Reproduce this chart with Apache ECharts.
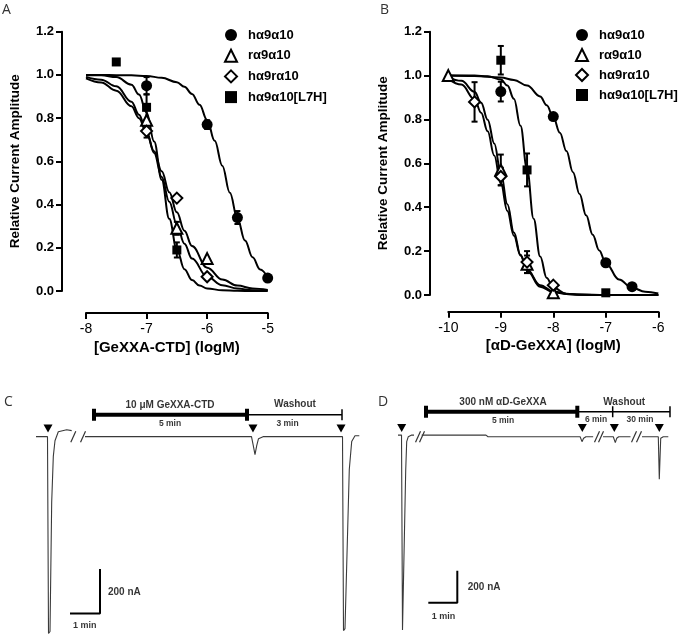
<!DOCTYPE html>
<html><head><meta charset="utf-8">
<script src="https://cdn.jsdelivr.net/npm/echarts@6/dist/echarts.min.js"></script>
<style>html,body{margin:0;padding:0;background:#fff}#main{width:685px;height:638px}</style>
</head><body><div id="main"></div>
<script>
// ---------- Names ----------
const seriesNames = ['hα9α10', 'rα9α10', 'hα9rα10', 'hα9α10[L7H]'];
const panelLetters = ['A', 'B', 'C', 'D'];
const aXName = '[GeXXA-CTD] (logM)';
const bXName = '[αD-GeXXA] (logM)';
const yName = 'Relative Current Amplitude';

// ---------- Panel A: points [logM, relative amplitude, SEM] ----------
const aPtsH   = [[-7, 0.95, 0.04], [-6, 0.77, 0.02], [-5.5, 0.34, 0.03], [-5, 0.06, 0]];
const aPtsR   = [[-7, 0.79, 0], [-6.5, 0.29, 0.03], [-6, 0.15, 0]];
const aPtsHR  = [[-7, 0.74, 0.03], [-6.5, 0.43, 0], [-6, 0.066, 0]];
const aPtsL7H = [[-7.5, 1.06, 0], [-7, 0.85, 0.06], [-6.5, 0.19, 0.035]];
// fitted curves
const aFitH = [[-8,1.000],[-7.75,1.000],[-7.5,0.999],[-7.25,0.998],[-7,0.995],[-6.75,0.987],[-6.5,0.966],[-6.375,0.945],[-6.25,0.912],[-6.125,0.862],[-6,0.791],[-5.875,0.695],[-5.75,0.580],[-5.625,0.455],[-5.5,0.335],[-5.375,0.234],[-5.25,0.156],[-5.125,0.100],[-5,0.063]];
const aFitR = [[-8,0.984],[-7.75,0.965],[-7.5,0.927],[-7.25,0.855],[-7.125,0.800],[-7,0.730],[-6.875,0.647],[-6.75,0.554],[-6.625,0.457],[-6.5,0.364],[-6.375,0.279],[-6.25,0.208],[-6,0.108],[-5.75,0.053],[-5.5,0.025],[-5.25,0.012],[-5,0.005]];
const aFitHR = [[-8,0.991],[-7.75,0.978],[-7.5,0.947],[-7.25,0.876],[-7.125,0.816],[-7,0.737],[-6.875,0.639],[-6.75,0.528],[-6.625,0.413],[-6.5,0.308],[-6.375,0.219],[-6.25,0.150],[-6,0.066],[-5.75,0.027],[-5.5,0.011],[-5.25,0.004],[-5,0.002]];
const aFitL7H = [[-8,0.999],[-7.75,0.998],[-7.5,0.990],[-7.25,0.955],[-7.125,0.909],[-7,0.826],[-6.875,0.692],[-6.75,0.515],[-6.625,0.334],[-6.5,0.192],[-6.375,0.101],[-6.25,0.051],[-6.125,0.025],[-6,0.012],[-5.75,0.003],[-5.5,0.001],[-5.25,0],[-5,0]];

// ---------- Panel B ----------
const bPtsH   = [[-9, 0.927, 0.045], [-8, 0.813, 0], [-7, 0.147, 0], [-6.5, 0.038, 0]];
const bPtsR   = [[-10, 1.0, 0], [-9, 0.57, 0.07], [-8.5, 0.14, 0.04], [-8, 0.01, 0]];
const bPtsHR  = [[-9.5, 0.88, 0.09], [-9, 0.54, 0.04], [-8.5, 0.15, 0.05], [-8, 0.045, 0.01]];
const bPtsL7H = [[-9, 1.07, 0.065], [-8.5, 0.57, 0.075], [-7, 0.01, 0]];
const bFitH = [[-10,1.000],[-9.5,0.998],[-9,0.991],[-8.75,0.980],[-8.5,0.955],[-8.25,0.905],[-8.125,0.865],[-8,0.810],[-7.875,0.740],[-7.75,0.656],[-7.625,0.560],[-7.5,0.460],[-7.375,0.363],[-7.25,0.275],[-7.125,0.203],[-7,0.145],[-6.75,0.071],[-6.5,0.033],[-6.25,0.015],[-6,0.007]];
const bFitR = [[-10,0.992],[-9.75,0.976],[-9.5,0.926],[-9.375,0.876],[-9.25,0.799],[-9.125,0.691],[-9,0.557],[-8.875,0.414],[-8.75,0.285],[-8.625,0.183],[-8.5,0.112],[-8.25,0.038],[-8,0.013],[-7.75,0.004],[-7.5,0.001],[-7,0],[-6.5,0],[-6,0]];
const bFitHR = [[-10,0.985],[-9.75,0.959],[-9.5,0.892],[-9.375,0.831],[-9.25,0.746],[-9.125,0.636],[-9,0.510],[-8.875,0.383],[-8.75,0.270],[-8.625,0.180],[-8.5,0.116],[-8.25,0.045],[-8,0.016],[-7.75,0.006],[-7.5,0.002],[-7,0],[-6.5,0],[-6,0]];
const bFitL7H = [[-10,1.000],[-9.5,1.000],[-9.25,0.997],[-9,0.982],[-8.875,0.955],[-8.75,0.894],[-8.625,0.771],[-8.5,0.573],[-8.375,0.348],[-8.25,0.175],[-8.125,0.078],[-8,0.033],[-7.75,0.005],[-7.5,0.001],[-7,0],[-6.5,0],[-6,0]];

// ---------- Panel C: current trace [time (min), current (nA)], null = axis break ----------
const cTrace = [[0,0],[0.383,0],[0.417,-880],[0.467,-871],[0.523,-293],[0.577,-88],[0.633,-18],[0.743,22],[1.023,31],[1.19,27],null,
  [1.633,0],[7.183,0],[7.243,-40],[7.3,-80],[7.357,-40],[7.417,-9],[7.567,0],[10.217,0],[10.25,-867],[10.3,-858],[10.443,-147],[10.523,-22],[10.633,4],[10.777,4]];
const cStimuli = [0.4, 7.233, 10.167];
const cBreaks = [1.243, 1.567];
const cDrugPeriod = [1.933, 7.033];
const cWashPeriod = [7.033, 10.2];
const cTexts = ['10 μM GeXXA-CTD', '5 min', 'Washout', '3 min', '200 nA', '1 min'];

// ---------- Panel D ----------
const dTrace = [[0,10],[0.121,10],[0.155,-1208],[0.207,-1208],[0.266,-208],[0.3,-31],[0.355,0],[0.472,10],[0.552,10],null,
  [0.817,10],[3.034,10],[3.103,0],[6.28,0],[6.345,-31],[6.4,-10],[6.48,0],[6.73,0],null,
  [7.07,0],[7.424,0],[7.493,-37],[7.541,-10],[7.61,0],[8.017,0],null,
  [8.414,0],[8.976,0],[9.01,-266],[9.059,-10],[9.148,0],[9.321,0]];
const dStimuli = [0.128, 6.355, 7.459, 9.01];
const dBreaks = [0.69, 0.828, 6.862, 7.0, 8.138, 8.31];
const dDrugPeriod = [0.966, 6.183];
const dWashPeriod = [6.183, 9.379];
const dWashTicks = [7.403];
const dTexts = ['300 nM αD-GeXXA', '5 min', 'Washout', '6 min', '30 min', '200 nA', '1 min'];

// ---------- Helpers ----------
const FONT = "'Liberation Sans', Arial, Helvetica, sans-serif";
const symbols = ['circle', 'triangle', 'diamond', 'rect'];
const filled = [true, false, false, true];
const symSize = [11, 11, 11, 9];

function errBar(params, api) {
  const x = api.value(0), y = api.value(1), e = api.value(2);
  const p1 = api.coord([x, y + e]), p2 = api.coord([x, y - e]);
  const w = 3, st = { stroke: '#000', lineWidth: 2 };
  return { type: 'group', children: [
    { type: 'line', shape: { x1: p1[0], y1: p1[1], x2: p2[0], y2: p2[1] }, style: st },
    { type: 'line', shape: { x1: p1[0] - w, y1: p1[1], x2: p1[0] + w, y2: p1[1] }, style: st },
    { type: 'line', shape: { x1: p2[0] - w, y1: p2[1], x2: p2[0] + w, y2: p2[1] }, style: st }
  ]};
}
function slashItem(params, api) {
  const p = api.coord([api.value(0), api.value(1)]);
  return { type: 'line', shape: { x1: p[0] - 2.5, y1: p[1] + 5.5, x2: p[0] + 2.5, y2: p[1] - 5.5 },
    style: { stroke: '#333', lineWidth: 1.2 } };
}
function segments(arr) {
  const out = []; let cur = [];
  arr.forEach(p => { if (p === null) { if (cur.length) out.push(cur); cur = []; } else cur.push(p); });
  if (cur.length) out.push(cur);
  return out;
}

const series = [];
function addDoseResponse(axisIdx, fits, pts) {
  fits.forEach(f => series.push({ type: 'line', xAxisIndex: axisIdx, yAxisIndex: axisIdx, data: f,
    smooth: 0.4, smoothMonotone: 'x', symbol: 'none', silent: true, z: 2,
    lineStyle: { color: '#000', width: 2 } }));
  pts.forEach((p, k) => {
    series.push({ type: 'custom', xAxisIndex: axisIdx, yAxisIndex: axisIdx, renderItem: errBar,
      data: p.filter(d => d[2] > 0), z: 3, silent: true, encode: { x: 0, y: 1 } });
  });
  pts.forEach((p, k) => {
    series.push({ type: 'scatter', name: seriesNames[k], xAxisIndex: axisIdx, yAxisIndex: axisIdx,
      data: p.map(d => [d[0], d[1]]), symbol: symbols[k], symbolSize: symSize[k], z: 4,
      itemStyle: filled[k] ? { color: '#000', opacity: 1 } : { color: '#fff', borderColor: '#000', borderWidth: 2, opacity: 1 } });
  });
}
addDoseResponse(0, [aFitH, aFitR, aFitHR, aFitL7H], [aPtsH, aPtsR, aPtsHR, aPtsL7H]);
addDoseResponse(1, [bFitH, bFitR, bFitHR, bFitL7H], [bPtsH, bPtsR, bPtsHR, bPtsL7H]);

function addTrace(idx, trace, stimuli, stimLevel, breaks, drug, wash, washTicks, barLevel, scale, texts, textPos) {
  segments(trace).forEach(seg => series.push({ type: 'line', xAxisIndex: idx, yAxisIndex: idx, data: seg,
    symbol: 'none', silent: true, lineStyle: { color: '#3a3a3a', width: 1.1 } }));
  series.push({ type: 'custom', xAxisIndex: idx, yAxisIndex: idx, renderItem: slashItem,
    data: breaks.map(t => [t, 0]), silent: true });
  series.push({ type: 'scatter', xAxisIndex: idx, yAxisIndex: idx, symbol: 'triangle', symbolRotate: 180,
    symbolSize: [9, 8], data: stimuli.map(t => [t, stimLevel]), itemStyle: { color: '#000', opacity: 1 }, silent: true });
  series.push({ type: 'line', xAxisIndex: idx, yAxisIndex: idx, data: [[drug[0], barLevel], [drug[1], barLevel]],
    symbol: 'none', silent: true, lineStyle: { color: '#000', width: 4 } });
  series.push({ type: 'line', xAxisIndex: idx, yAxisIndex: idx, data: [[wash[0], barLevel], [wash[1], barLevel]],
    symbol: 'none', silent: true, lineStyle: { color: '#000', width: 1.5 } });
  series.push({ type: 'scatter', xAxisIndex: idx, yAxisIndex: idx, symbol: 'rect', symbolSize: [4, 12],
    data: drug.map(t => [t, barLevel]), itemStyle: { color: '#000', opacity: 1 }, silent: true });
  series.push({ type: 'scatter', xAxisIndex: idx, yAxisIndex: idx, symbol: 'rect', symbolSize: [1.5, 11],
    data: washTicks.concat([wash[1]]).map(t => [t, barLevel]), itemStyle: { color: '#000', opacity: 1 }, silent: true });
  series.push({ type: 'line', xAxisIndex: idx, yAxisIndex: idx,
    data: [[scale.t0, scale.i0], [scale.t1, scale.i0], [scale.t1, scale.i1]],
    symbol: 'none', silent: true, lineStyle: { color: '#000', width: 2 } });
  series.push({ type: 'scatter', xAxisIndex: idx, yAxisIndex: idx, symbolSize: 1, silent: true,
    itemStyle: { color: 'rgba(0,0,0,0)' },
    data: texts.map((s, k) => ({ value: [textPos[k][0], textPos[k][1]], name: s,
      label: { fontSize: textPos[k][2], align: textPos[k][3] } })),
    label: { show: true, position: 'inside', formatter: '{b}', color: '#000', fontWeight: 'bold',
      fontFamily: FONT, verticalAlign: 'middle' } });
}
addTrace(2, cTrace, cStimuli, 36, cBreaks, cDrugPeriod, cWashPeriod, [], 98,
  { t0: 1.133, t1: 2.133, i0: -791, i1: -591 }, cTexts,
  [[4.467, 142, 10, 'center'], [4.467, 58, 8.5, 'center'], [8.633, 147, 10, 'center'], [8.383, 58, 8.5, 'center'],
   [2.4, -696, 10, 'left'], [1.233, -844, 9, 'left']]);
addTrace(3, dTrace, dStimuli, 54, dBreaks, dDrugPeriod, dWashPeriod, dWashTicks, 156,
  { t0: 1.045, t1: 2.045, i0: -1038, i1: -838 }, dTexts,
  [[3.621, 217, 10, 'center'], [3.621, 100, 8.5, 'center'], [7.8, 215, 10, 'center'], [6.828, 109, 8.5, 'center'],
   [8.345, 109, 8.5, 'center'], [2.404, -944, 10, 'left'], [1.162, -1125, 9, 'left']]);

function doseX(idx, min, max, offset, name, shift) {
  return { type: 'value', gridIndex: idx, min: min, max: max, interval: 1, offset: offset,
    axisLine: { show: true, onZero: false, lineStyle: { color: '#000', width: 2 } },
    axisTick: { show: true, length: 6, lineStyle: { color: '#000', width: 2 } },
    axisLabel: { fontSize: 14, color: '#000', margin: 9, fontFamily: FONT },
    splitLine: { show: false },
    name: name, nameLocation: 'middle', nameGap: 27,
    nameTextStyle: { fontSize: 15, fontWeight: 'bold', color: '#000', fontFamily: FONT,
      padding: [0, shift, 0, 0] } };
}
function doseY(idx, offset) {
  return { type: 'value', gridIndex: idx, min: 0, max: 1.2, interval: 0.2, offset: offset,
    axisLine: { show: true, onZero: false, lineStyle: { color: '#000', width: 2 } },
    axisTick: { show: true, length: 6, lineStyle: { color: '#000', width: 2 } },
    axisLabel: { fontSize: 13, fontWeight: 'bold', color: '#000', margin: 8, fontFamily: FONT,
      formatter: v => v.toFixed(1) },
    splitLine: { show: false },
    name: yName, nameLocation: 'middle', nameGap: 40,
    nameTextStyle: { fontSize: 13.5, fontWeight: 'bold', color: '#000', fontFamily: FONT } };
}
const hidden = (idx, min, max) => ({ type: 'value', gridIndex: idx, min: min, max: max, show: false,
  splitLine: { show: false } });

function legendAt(left, gap) {
  return { left: left, top: 28, padding: 0, orient: 'vertical', itemWidth: 12, itemHeight: 12, itemGap: gap,
    selectedMode: false, data: seriesNames,
    textStyle: { fontWeight: 'bold', fontSize: 13, color: '#000', fontFamily: FONT, lineHeight: 14,
      padding: [0, 0, 0, 6] } };
}

const option = {
  animation: false,
  backgroundColor: '#fff',
  grid: [
    { left: 86, top: 31.7, width: 181.7, height: 259.3 },
    { left: 448.3, top: 31.7, width: 210, height: 263.3 },
    { left: 36, top: 380.75, width: 330, height: 258.75 },
    { left: 398, top: 388.7, width: 278.4, height: 248 }
  ],
  xAxis: [doseX(0, -8, -5, 22, aXName, 20), doseX(1, -10, -6, 16.7, bXName, 0), hidden(2, 0, 11), hidden(3, 0, 9.6)],
  yAxis: [doseY(0, 24), doseY(1, 18.3), hidden(2, -900, 250), hidden(3, -1250, 300)],
  legend: [legendAt(224, 6.7), legendAt(575, 6)],
  graphic: [
    { type: 'text', left: 2, top: 3, style: { text: panelLetters[0], font: '14px "Open Sans", sans-serif', fill: '#333' } },
    { type: 'text', left: 380, top: 3, style: { text: panelLetters[1], font: '14px "Open Sans", sans-serif', fill: '#333' } },
    { type: 'text', left: 4, top: 395, style: { text: panelLetters[2], font: '14px "Open Sans", sans-serif', fill: '#333' } },
    { type: 'text', left: 378, top: 395, style: { text: panelLetters[3], font: '14px "Open Sans", sans-serif', fill: '#333' } }
  ],
  series: series
};
const chart = echarts.init(document.getElementById('main'), null, { renderer: 'canvas' });
chart.setOption(option);
</script></body></html>
